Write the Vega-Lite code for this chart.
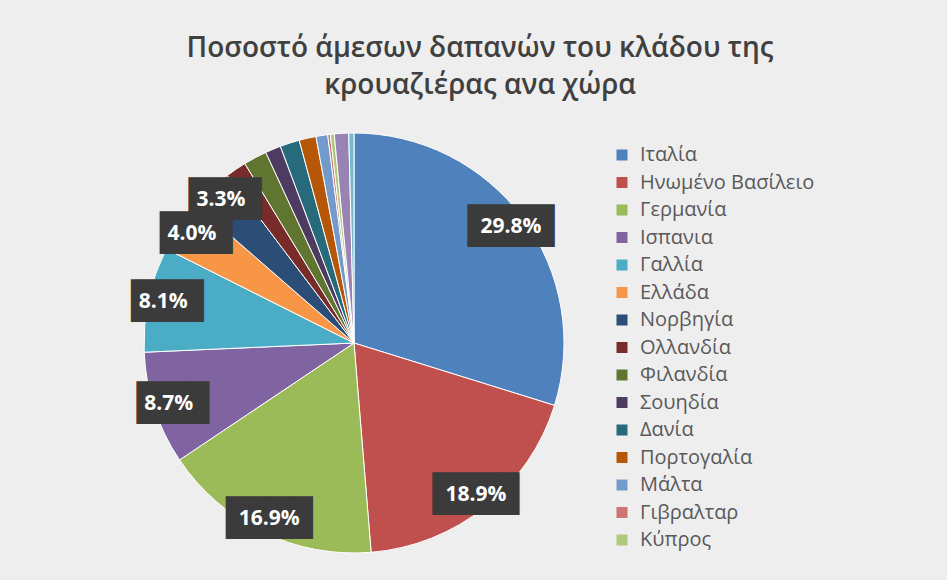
{
  "$schema": "https://vega.github.io/schema/vega-lite/v6.json",
  "width": 420,
  "height": 420,
  "autosize": {"type": "none"},
  "padding": {"left": 144, "top": 133, "right": 383, "bottom": 27},
  "background": "#eeeeee",
  "config": {"view": {"stroke": null}},
  "title": {
    "text": ["Ποσοστό άμεσων δαπανών του κλάδου της", "κρουαζιέρας ανα χώρα"],
    "anchor": "middle",
    "frame": "group",
    "dx": 126,
    "offset": 30,
    "font": "Open Sans",
    "fontSize": 28,
    "fontWeight": 600,
    "color": "#404040",
    "lineHeight": 37
  },
  "data": {
    "values": [
      {"country": "Ιταλία", "share": 0.298, "ord": 1},
      {"country": "Ηνωμένο Βασίλειο", "share": 0.189, "ord": 2},
      {"country": "Γερμανία", "share": 0.169, "ord": 3},
      {"country": "Ισπανια", "share": 0.087, "ord": 4},
      {"country": "Γαλλία", "share": 0.081, "ord": 5},
      {"country": "Ελλάδα", "share": 0.040, "ord": 6},
      {"country": "Νορβηγία", "share": 0.033, "ord": 7},
      {"country": "Ολλανδία", "share": 0.016, "ord": 8},
      {"country": "Φιλανδία", "share": 0.018, "ord": 9},
      {"country": "Σουηδία", "share": 0.012, "ord": 10},
      {"country": "Δανία", "share": 0.015, "ord": 11},
      {"country": "Πορτογαλία", "share": 0.013, "ord": 12},
      {"country": "Μάλτα", "share": 0.009, "ord": 13},
      {"country": "Γιβραλταρ", "share": 0.002, "ord": 14},
      {"country": "Κύπρος", "share": 0.003, "ord": 15},
      {"country": "Άλλες χώρες", "share": 0.011, "ord": 16},
      {"country": "Λοιπές", "share": 0.004, "ord": 17}
    ]
  },
  "encoding": {
    "theta": {"field": "share", "type": "quantitative", "stack": true},
    "order": {"field": "ord", "type": "quantitative"}
  },
  "layer": [
    {
      "mark": {"type": "arc", "stroke": "#ffffff", "strokeWidth": 1},
      "encoding": {
        "color": {
          "field": "country",
          "type": "nominal",
          "scale": {
            "domain": ["Ιταλία", "Ηνωμένο Βασίλειο", "Γερμανία", "Ισπανια", "Γαλλία", "Ελλάδα", "Νορβηγία", "Ολλανδία", "Φιλανδία", "Σουηδία", "Δανία", "Πορτογαλία", "Μάλτα", "Γιβραλταρ", "Κύπρος", "Άλλες χώρες", "Λοιπές"],
            "range": ["#4F81BD", "#C0504D", "#9BBB59", "#8064A2", "#4BACC6", "#F79646", "#2C4D75", "#772C2A", "#5F7530", "#4D3B62", "#276A7C", "#B65708", "#729ACA", "#CD7371", "#AFC97A", "#9983B5", "#6FBDD1"]
          },
          "legend": {
            "orient": "none",
            "legendX": 468,
            "legendY": 12,
            "title": null,
            "values": ["Ιταλία", "Ηνωμένο Βασίλειο", "Γερμανία", "Ισπανια", "Γαλλία", "Ελλάδα", "Νορβηγία", "Ολλανδία", "Φιλανδία", "Σουηδία", "Δανία", "Πορτογαλία", "Μάλτα", "Γιβραλταρ", "Κύπρος"],
            "symbolType": "square",
            "symbolSize": 121,
            "symbolStrokeWidth": 0,
            "labelFont": "Open Sans",
            "labelFontSize": 20,
            "labelColor": "#595959",
            "labelLimit": 400,
            "labelOffset": 8,
            "rowPadding": 7.5
          }
        }
      }
    },
    {
      "mark": {"type": "text", "radius": 195, "font": "DejaVu Sans Mono", "fontSize": 36, "fill": "#3b3b3b"},
      "encoding": {
        "text": {
          "condition": [
            {"test": "datum.share >= 0.1", "value": "████"},
            {"test": "datum.share >= 0.03", "value": "▐██▉"}
          ],
          "value": ""
        }
      }
    },
    {
      "mark": {"type": "text", "radius": 195, "font": "Open Sans", "fontSize": 21, "fontWeight": "bold", "fill": "#ffffff"},
      "encoding": {
        "text": {"condition": {"test": "datum.share >= 0.03", "field": "share", "type": "quantitative", "format": ".1%"}, "value": ""}
      }
    }
  ]
}
